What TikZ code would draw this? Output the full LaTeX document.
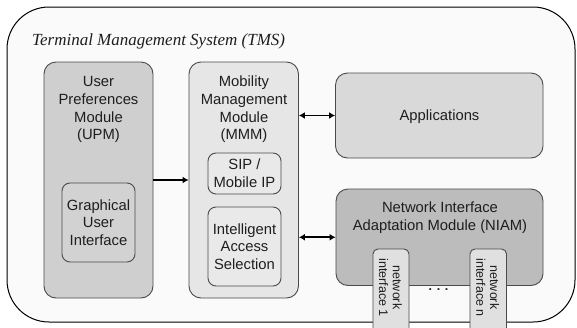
\documentclass[tikz,border=0pt]{standalone}
\usepackage{fontspec}
\setmainfont{Liberation Sans}
\newfontfamily\titlefont{Liberation Serif}
\usetikzlibrary{arrows.meta}
\definecolor{bgc}{HTML}{FAFAFA}
\definecolor{upmc}{HTML}{CFCFCF}
\definecolor{guic}{HTML}{D2D2D2}
\definecolor{mmmc}{HTML}{E6E6E6}
\definecolor{subc}{HTML}{E9E9E9}
\definecolor{appc}{HTML}{D9D9D9}
\definecolor{niamc}{HTML}{BCBCBC}
\definecolor{ifcc}{HTML}{E0E0E0}
\definecolor{boxline}{HTML}{4A4A4A}
\definecolor{txt}{HTML}{1E1E1E}
\newcommand\boxfont{\fontsize{14.8}{17.7}\selectfont}
\newcommand\smallboxfont{\fontsize{12.5}{13.6}\selectfont}
\tikzset{
  modbox/.style={draw=boxline, line width=0.9pt, rounded corners=12pt, inner sep=0pt,
    align=center, font=\boxfont, text=txt},
  subbox/.style={modbox, rounded corners=8pt},
  ifcbox/.style={draw=boxline, line width=0.9pt, rounded corners=5pt, fill=ifcc, inner sep=0pt},
  lbl/.style={align=center, font=\boxfont, text=txt, inner sep=0pt},
  ifclbl/.style={align=center, font=\smallboxfont, text=txt, inner sep=0pt, rotate=-90},
  tipx/.tip={Latex[length=6pt,width=7pt]},
  arr/.style={line width=1.8pt, draw=black, -tipx},
  darr/.style={line width=1.8pt, draw=black, tipx-tipx}
}
\begin{document}
\begin{tikzpicture}[x=1pt,y=-1pt]
\useasboundingbox (0,0) rectangle (577,327);
\clip (0,0) rectangle (577,327);
\fill[white] (0,0) rectangle (577,327);
% outer container
\node[draw=black, line width=1pt, fill=bgc, rounded corners=42pt, minimum width=568pt, minimum height=315pt, inner sep=0pt] (tms) at (291,164.5) {};
\node[anchor=base west, inner sep=0pt, text=txt, font=\titlefont\itshape\fontsize{17}{20}\selectfont] (title) at (32,45) {Terminal Management System (TMS)};
% UPM
\node[modbox, fill=upmc, minimum width=109pt, minimum height=236pt] (upm) at (98.5,180) {};
\node[lbl] (upmt) at (98.5,109.6) {User\\Preferences\\Module\\(UPM)};
\node[subbox, fill=guic, minimum width=73pt, minimum height=79pt] (gui) at (98.5,222.5) {Graphical\\User\\Interface};
% MMM
\node[modbox, fill=mmmc, minimum width=109.5pt, minimum height=236pt] (mmm) at (243.75,180) {};
\node[lbl] (mmmt) at (244,109.5) {Mobility\\Management\\Module\\(MMM)};
\node[subbox, fill=subc, minimum width=73pt, minimum height=41pt] (sip) at (244.5,173.5) {SIP /\\Mobile IP};
\node[subbox, fill=subc, minimum width=73pt, minimum height=79pt] (ias) at (244.5,246.5) {Intelligent\\Access\\Selection};
% Applications
\node[modbox, fill=appc, minimum width=207.5pt, minimum height=85pt] (app) at (439.25,115.5) {};
\node[lbl] (appt) at (439.5,117) {Applications};
% NIAM
\node[modbox, fill=niamc, minimum width=207pt, minimum height=96.5pt] (niam) at (439.5,237.25) {};
\node[lbl] (niamt) at (440,217.6) {Network Interface\\Adaptation Module (NIAM)};
% network interfaces
\node[ifcbox, minimum width=36pt, minimum height=86pt] (if1) at (391,292) {};
\node[ifclbl] (if1t) at (390.5,287.5) {network\\interface 1};
\node[ifcbox, minimum width=36.5pt, minimum height=86pt] (ifn) at (488.25,292) {};
\node[ifclbl] (ifnt) at (487.75,287.5) {network\\interface n};
\node[inner sep=0pt, text=txt, font=\fontsize{12.5}{14}\selectfont\bfseries] (dots) at (438.5,290) {. . .};
% connectors
\draw[arr] (upm.east) -- (mmm.west);
\draw[darr] (mmm.east |- app.west) -- (app.west);
\draw[darr] (mmm.east |- niam.west) -- (niam.west);
\end{tikzpicture}
\end{document}
